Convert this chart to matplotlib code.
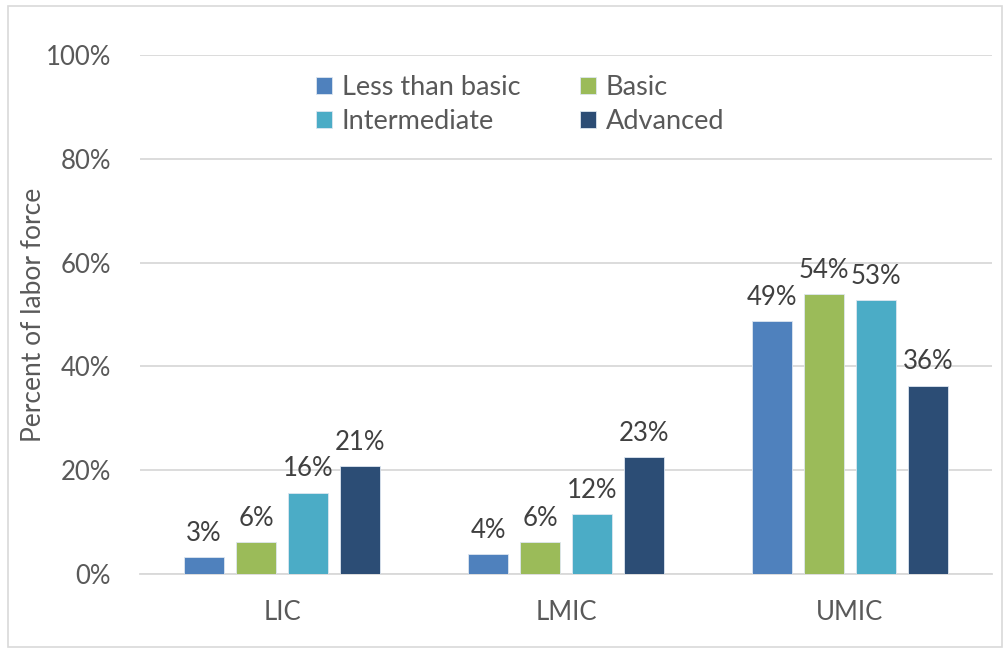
import matplotlib
matplotlib.use("Agg")
import matplotlib.pyplot as plt
from matplotlib.patches import Rectangle
import numpy as np

categories = ["LIC", "LMIC", "UMIC"]
series_names = ["Less than basic", "Basic", "Intermediate", "Advanced"]
less_than_basic = [3.3, 3.8, 48.8]
basic = [6.1, 6.2, 54.0]
intermediate = [15.7, 11.6, 52.7]
advanced = [20.8, 22.6, 36.3]
labels_lic_lmic_umic = [["3%", "4%", "49%"], ["6%", "6%", "54%"], ["16%", "12%", "53%"], ["21%", "23%", "36%"]]
yticks = [0, 20, 40, 60, 80, 100]
ytick_labels = ["0%", "20%", "40%", "60%", "80%", "100%"]

colors = ["#4F81BD", "#9BBB59", "#4BACC6", "#2C4D75"]
text_color = "#595959"
plt.rcParams['font.family'] = ['Lato', 'DejaVu Sans']
FS = 18.5

fig = plt.figure(figsize=(10.04, 6.49), dpi=100)
fig.patches.append(Rectangle((8/1004, 2/649), 994/1004, 641/649, transform=fig.transFigure,
                             fill=False, edgecolor="#D9D9D9", linewidth=1.2))
ax = fig.add_axes([140/1004, 1 - 574/649, 852/1004, (574 - 55)/649])

x = np.arange(len(categories))
width = 0.144
step = 0.183
offsets = (np.arange(4) - 1.5) * step
all_series = [less_than_basic, basic, intermediate, advanced]
handles = []
for i, (vals, name) in enumerate(zip(all_series, series_names)):
    bars = ax.bar(x + offsets[i], vals, width, color=colors[i], label=name,
                  edgecolor="#DDE6F0", linewidth=0.6, zorder=3)
    handles.append(bars)
    for b, lab in zip(bars, labels_lic_lmic_umic[i]):
        ax.annotate(lab, (b.get_x() + b.get_width() / 2, b.get_height()),
                    xytext=(0, 8), textcoords="offset points", ha="center", va="bottom",
                    fontsize=FS, color="#404040")

ax.set_xlim(-0.5, 2.5)
ax.set_ylim(0, 100)
ax.set_yticks(yticks)
ax.set_yticklabels(ytick_labels)
ax.set_xticks(x)
ax.set_xticklabels(categories)
ax.tick_params(axis="both", length=0, labelsize=FS, labelcolor=text_color)
ax.tick_params(axis="y", pad=21)
ax.tick_params(axis="x", pad=19)
ax.grid(axis="y", color="#D9D9D9", linewidth=1.3, zorder=0)
for s in ["top", "right", "left"]:
    ax.spines[s].set_visible(False)
ax.spines["bottom"].set_color("#D9D9D9")
ax.spines["bottom"].set_linewidth(1.3)
ax.set_ylabel("Percent of labor force", fontsize=19, color=text_color)
ax.yaxis.set_label_coords(-94/852, 0.5)

order = [0, 2, 1, 3]
leg = ax.legend([handles[k] for k in order], [series_names[k] for k in order],
                loc="upper left", bbox_to_anchor=(316/1004, 1 - 75/649), bbox_transform=fig.transFigure,
                ncol=2, frameon=False, fontsize=19.5, handlelength=0.6, handleheight=0.6,
                handletextpad=0.35, columnspacing=2.2, labelspacing=0.32, borderpad=0,
                borderaxespad=0)
for t in leg.get_texts():
    t.set_color(text_color)

fig.savefig("out.png", dpi=100)
